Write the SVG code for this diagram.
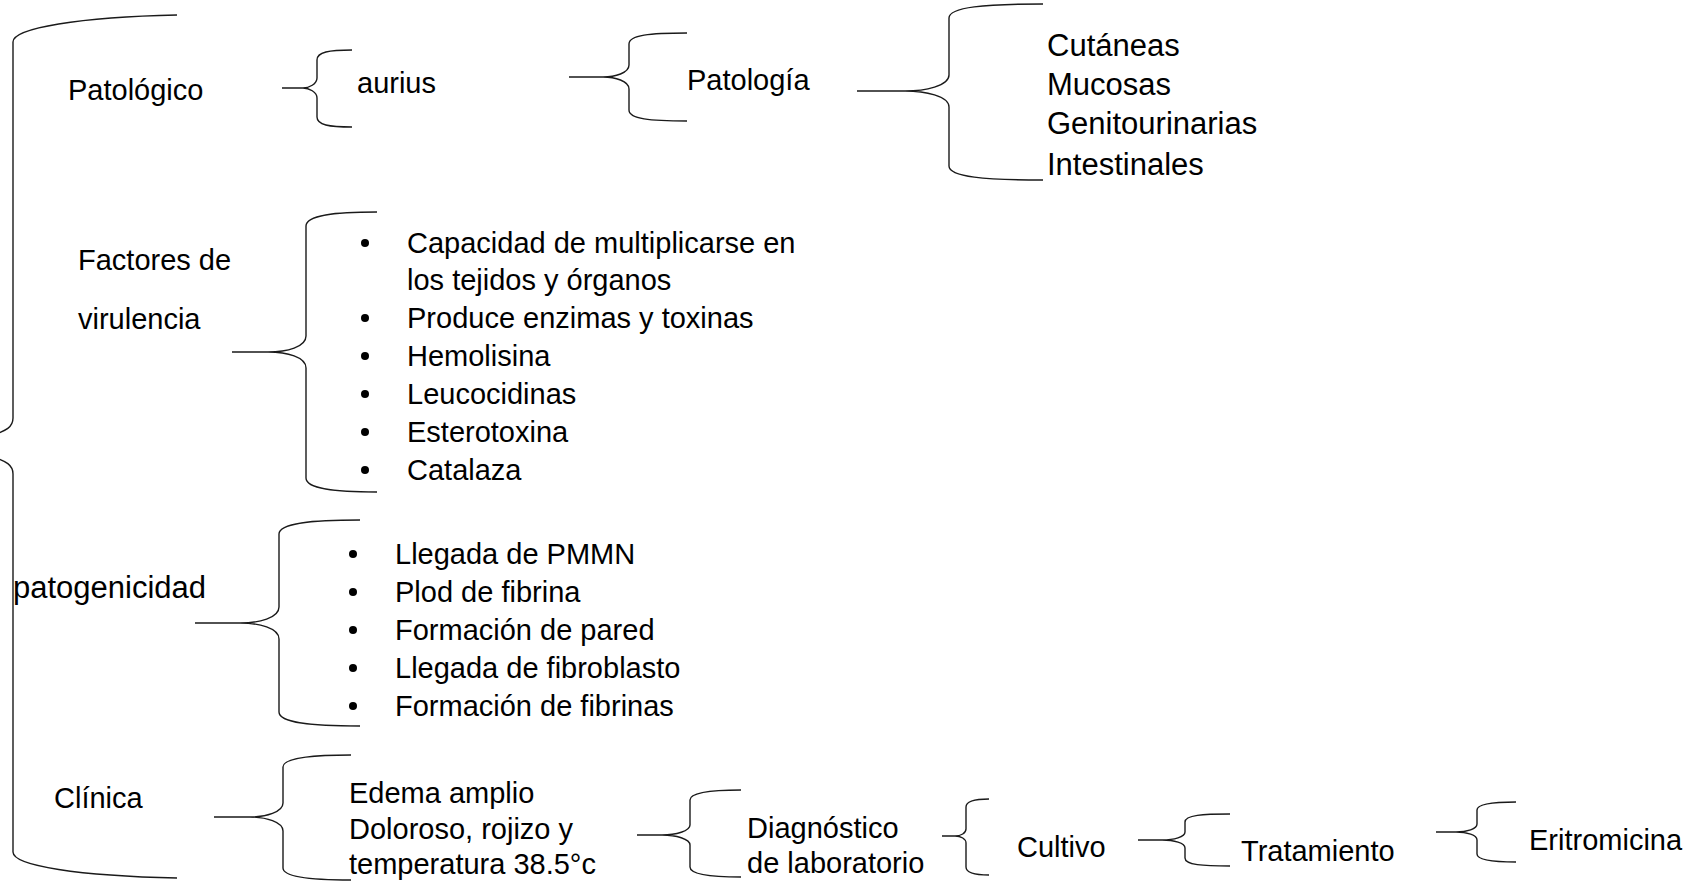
<svg xmlns="http://www.w3.org/2000/svg" width="1694" height="890" viewBox="0 0 1694 890">
<style>
  .br { fill: none; stroke: #1a1a1a; stroke-width: 1.4; }
  text { font-family: "Liberation Sans", Arial, sans-serif; font-size: 29px; fill: #000; }
  .big { font-size: 31px; }
  .dot { fill: #000; }
</style>
<rect x="0" y="0" width="1694" height="890" fill="#ffffff"/>
<g id="connectors">
  <path class="br" d="M177,15 C80,17 13,28 13,42 L13,418 C13,428 4,431 -4,434 L-30,446 L-4,458 C4,461 13,464 13,474 L13,852 C13,866 80,876 177,878"/>
  <path class="br" d="M352,50 C329,50 317,52 317,60 L317,78 C317,84 309,88 303,88 C309,88 317,92 317,98 L317,117 C317,125 329,127 352,127 M282,88 H303"/>
  <path class="br" d="M687,33 C650,33 629,35 629,44 L629,65 C629,73 615,77 603,77 C615,77 629,81 629,89 L629,110 C629,119 650,121 687,121 M569,77 H603"/>
  <path class="br" d="M1043,4 C985,4 949,7 949,18 L949,75 C949,86 925,91 905,91 C925,91 949,96 949,107 L949,166 C949,177 985,180 1043,180 M857,91 H905"/>
  <path class="br" d="M377,212 C335,212 306,215 306,226 L306,336 C306,347 287,352 268,352 C287,352 306,357 306,368 L306,478 C306,489 335,492 377,492 M232,352 H268"/>
  <path class="br" d="M360,520 C312,520 279,523 279,534 L279,607 C279,618 259,623 240,623 C259,623 279,628 279,639 L279,712 C279,723 312,726 360,726 M195,623 H240"/>
  <path class="br" d="M351,755 C310,755 283,758 283,767 L283,803 C283,812 266,817 250,817 C266,817 283,822 283,831 L283,868 C283,877 310,880 351,880 M214,817 H250"/>
  <path class="br" d="M741,790 C712,790 690,792 690,800 L690,825 C690,831 676,835 662,835 C676,835 690,839 690,845 L690,867 C690,875 712,877 741,877 M637,835 H662"/>
  <path class="br" d="M989,799 C975,799 966,801 966,807 L966,829 C966,833 961,836 955,836 C961,836 966,839 966,843 L966,867 C966,873 975,875 989,875 M942,836 H955"/>
  <path class="br" d="M1230,814 C1203,814 1185,815 1185,822 L1185,832 C1185,837 1174,840 1162,840 C1174,840 1185,843 1185,848 L1185,858 C1185,865 1203,866 1230,866 M1138,840 H1162"/>
  <path class="br" d="M1516,802 C1493,802 1477,804 1477,810 L1477,824 C1477,829 1467,832 1456,832 C1467,832 1477,835 1477,840 L1477,854 C1477,860 1493,862 1516,862 M1436,832 H1456"/>
</g>
<g id="patologico"><text x="68" y="100">Patológico</text></g>
<g id="aurius"><text x="357" y="93">aurius</text></g>
<g id="patologia"><text x="687" y="90">Patología</text></g>
<g id="localizaciones">
  <text class="big" x="1047" y="56">Cutáneas</text>
  <text class="big" x="1047" y="95">Mucosas</text>
  <text class="big" x="1047" y="134">Genitourinarias</text>
  <text class="big" x="1047" y="175">Intestinales</text>
</g>
<g id="factores">
  <text x="78" y="270">Factores de</text>
  <text x="78" y="329">virulencia</text>
</g>
<g id="lista-virulencia">
  <circle class="dot" cx="365" cy="243" r="4"/>
  <text x="407" y="253">Capacidad de multiplicarse en</text>
  <text x="407" y="290">los tejidos y órganos</text>
  <circle class="dot" cx="365" cy="318" r="4"/>
  <text x="407" y="328">Produce enzimas y toxinas</text>
  <circle class="dot" cx="365" cy="356" r="4"/>
  <text x="407" y="366">Hemolisina</text>
  <circle class="dot" cx="365" cy="394" r="4"/>
  <text x="407" y="404">Leucocidinas</text>
  <circle class="dot" cx="365" cy="432" r="4"/>
  <text x="407" y="442">Esterotoxina</text>
  <circle class="dot" cx="365" cy="470" r="4"/>
  <text x="407" y="480">Catalaza</text>
</g>
<g id="patogenicidad"><text class="big" x="13" y="598">patogenicidad</text></g>
<g id="lista-patogenicidad">
  <circle class="dot" cx="353" cy="554" r="4"/>
  <text x="395" y="564">Llegada de PMMN</text>
  <circle class="dot" cx="353" cy="592" r="4"/>
  <text x="395" y="602">Plod de fibrina</text>
  <circle class="dot" cx="353" cy="630" r="4"/>
  <text x="395" y="640">Formación de pared</text>
  <circle class="dot" cx="353" cy="668" r="4"/>
  <text x="395" y="678">Llegada de fibroblasto</text>
  <circle class="dot" cx="353" cy="706" r="4"/>
  <text x="395" y="716">Formación de fibrinas</text>
</g>
<g id="clinica"><text x="54" y="808">Clínica</text></g>
<g id="edema">
  <text x="349" y="803">Edema amplio</text>
  <text x="349" y="839">Doloroso, rojizo y</text>
  <text x="349" y="874">temperatura 38.5°c</text>
</g>
<g id="diagnostico">
  <text x="747" y="838">Diagnóstico</text>
  <text x="747" y="873">de laboratorio</text>
</g>
<g id="cultivo"><text x="1017" y="857">Cultivo</text></g>
<g id="tratamiento"><text x="1241" y="861">Tratamiento</text></g>
<g id="eritromicina"><text x="1529" y="850">Eritromicina</text></g>
</svg>
